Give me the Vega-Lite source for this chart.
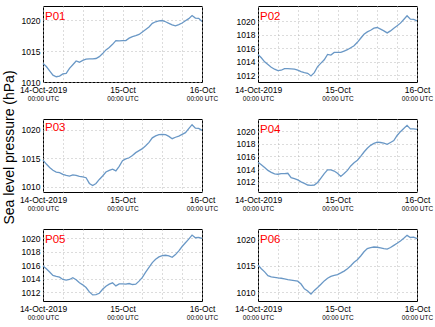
{
"$schema":"https://vega.github.io/schema/vega-lite/v6.json",
"padding":{"left":1,"top":5,"right":0,"bottom":0},
"config":{"view":{"stroke":"#000000","strokeWidth":1},"font":"Liberation Sans",
"axis":{"domain":false,"ticks":false,"tickSize":0,"grid":true,"gridColor":"#b8b8b8","gridDash":[1,3],"gridWidth":1,"labelFont":"Liberation Sans","labelFontSize":8.5,"labelColor":"#000000","labelOverlap":false}},
"datasets":{"pres":[
{"s":"P01","h":0,"p":1013.0},{"s":"P01","h":1,"p":1012.5},{"s":"P01","h":2,"p":1011.8},{"s":"P01","h":3,"p":1011.1},{"s":"P01","h":4,"p":1010.85},{"s":"P01","h":5,"p":1010.95},{"s":"P01","h":6,"p":1011.3},{"s":"P01","h":7,"p":1011.4},{"s":"P01","h":8,"p":1012.2},{"s":"P01","h":9,"p":1012.8},{"s":"P01","h":10,"p":1013.4},{"s":"P01","h":11,"p":1013.2},{"s":"P01","h":12,"p":1013.5},{"s":"P01","h":13,"p":1013.7},{"s":"P01","h":14,"p":1013.75},{"s":"P01","h":15,"p":1013.75},{"s":"P01","h":16,"p":1013.8},{"s":"P01","h":17,"p":1014.1},{"s":"P01","h":18,"p":1014.6},{"s":"P01","h":19,"p":1015.2},{"s":"P01","h":20,"p":1015.6},{"s":"P01","h":21,"p":1016.1},{"s":"P01","h":22,"p":1016.7},{"s":"P01","h":23,"p":1016.65},{"s":"P01","h":24,"p":1016.7},{"s":"P01","h":25,"p":1016.7},{"s":"P01","h":26,"p":1017.1},{"s":"P01","h":27,"p":1017.35},{"s":"P01","h":28,"p":1017.5},{"s":"P01","h":29,"p":1017.7},{"s":"P01","h":30,"p":1018.1},{"s":"P01","h":31,"p":1018.5},{"s":"P01","h":32,"p":1018.9},{"s":"P01","h":33,"p":1019.5},{"s":"P01","h":34,"p":1019.75},{"s":"P01","h":35,"p":1019.9},{"s":"P01","h":36,"p":1019.95},{"s":"P01","h":37,"p":1019.75},{"s":"P01","h":38,"p":1019.5},{"s":"P01","h":39,"p":1019.25},{"s":"P01","h":40,"p":1019.1},{"s":"P01","h":41,"p":1019.3},{"s":"P01","h":42,"p":1019.55},{"s":"P01","h":43,"p":1019.9},{"s":"P01","h":44,"p":1020.25},{"s":"P01","h":45,"p":1020.75},{"s":"P01","h":46,"p":1020.35},{"s":"P01","h":47,"p":1020.3},{"s":"P01","h":48,"p":1019.8},
{"s":"P02","h":0,"p":1015.1},{"s":"P02","h":1,"p":1014.6},{"s":"P02","h":2,"p":1014.0},{"s":"P02","h":3,"p":1013.6},{"s":"P02","h":4,"p":1013.2},{"s":"P02","h":5,"p":1012.9},{"s":"P02","h":6,"p":1012.7},{"s":"P02","h":7,"p":1012.75},{"s":"P02","h":8,"p":1013.0},{"s":"P02","h":9,"p":1013.0},{"s":"P02","h":10,"p":1012.95},{"s":"P02","h":11,"p":1012.9},{"s":"P02","h":12,"p":1012.75},{"s":"P02","h":13,"p":1012.55},{"s":"P02","h":14,"p":1012.4},{"s":"P02","h":15,"p":1012.3},{"s":"P02","h":16,"p":1011.9},{"s":"P02","h":17,"p":1012.4},{"s":"P02","h":18,"p":1013.3},{"s":"P02","h":19,"p":1013.8},{"s":"P02","h":20,"p":1014.3},{"s":"P02","h":21,"p":1015.1},{"s":"P02","h":22,"p":1015.0},{"s":"P02","h":23,"p":1015.4},{"s":"P02","h":24,"p":1015.4},{"s":"P02","h":25,"p":1015.4},{"s":"P02","h":26,"p":1015.6},{"s":"P02","h":27,"p":1015.8},{"s":"P02","h":28,"p":1016.1},{"s":"P02","h":29,"p":1016.4},{"s":"P02","h":30,"p":1016.9},{"s":"P02","h":31,"p":1017.5},{"s":"P02","h":32,"p":1018.1},{"s":"P02","h":33,"p":1018.45},{"s":"P02","h":34,"p":1018.7},{"s":"P02","h":35,"p":1019.0},{"s":"P02","h":36,"p":1019.1},{"s":"P02","h":37,"p":1018.85},{"s":"P02","h":38,"p":1018.6},{"s":"P02","h":39,"p":1018.3},{"s":"P02","h":40,"p":1018.6},{"s":"P02","h":41,"p":1019.0},{"s":"P02","h":42,"p":1019.35},{"s":"P02","h":43,"p":1019.75},{"s":"P02","h":44,"p":1020.3},{"s":"P02","h":45,"p":1020.85},{"s":"P02","h":46,"p":1020.35},{"s":"P02","h":47,"p":1020.3},{"s":"P02","h":48,"p":1020.1},
{"s":"P03","h":0,"p":1014.7},{"s":"P03","h":1,"p":1014.0},{"s":"P03","h":2,"p":1013.4},{"s":"P03","h":3,"p":1012.9},{"s":"P03","h":4,"p":1012.6},{"s":"P03","h":5,"p":1012.5},{"s":"P03","h":6,"p":1012.2},{"s":"P03","h":7,"p":1012.0},{"s":"P03","h":8,"p":1011.9},{"s":"P03","h":9,"p":1012.1},{"s":"P03","h":10,"p":1012.0},{"s":"P03","h":11,"p":1011.85},{"s":"P03","h":12,"p":1011.75},{"s":"P03","h":13,"p":1011.6},{"s":"P03","h":14,"p":1010.6},{"s":"P03","h":15,"p":1010.25},{"s":"P03","h":16,"p":1010.6},{"s":"P03","h":17,"p":1011.3},{"s":"P03","h":18,"p":1011.9},{"s":"P03","h":19,"p":1012.6},{"s":"P03","h":20,"p":1012.9},{"s":"P03","h":21,"p":1013.1},{"s":"P03","h":22,"p":1012.8},{"s":"P03","h":23,"p":1013.6},{"s":"P03","h":24,"p":1014.6},{"s":"P03","h":25,"p":1014.9},{"s":"P03","h":26,"p":1015.1},{"s":"P03","h":27,"p":1015.5},{"s":"P03","h":28,"p":1016.0},{"s":"P03","h":29,"p":1016.35},{"s":"P03","h":30,"p":1016.7},{"s":"P03","h":31,"p":1017.2},{"s":"P03","h":32,"p":1017.8},{"s":"P03","h":33,"p":1018.6},{"s":"P03","h":34,"p":1018.95},{"s":"P03","h":35,"p":1019.15},{"s":"P03","h":36,"p":1019.2},{"s":"P03","h":37,"p":1019.15},{"s":"P03","h":38,"p":1018.85},{"s":"P03","h":39,"p":1018.45},{"s":"P03","h":40,"p":1018.7},{"s":"P03","h":41,"p":1018.9},{"s":"P03","h":42,"p":1019.2},{"s":"P03","h":43,"p":1019.5},{"s":"P03","h":44,"p":1020.2},{"s":"P03","h":45,"p":1020.9},{"s":"P03","h":46,"p":1020.3},{"s":"P03","h":47,"p":1020.25},{"s":"P03","h":48,"p":1019.9},
{"s":"P04","h":0,"p":1015.1},{"s":"P04","h":1,"p":1014.7},{"s":"P04","h":2,"p":1014.25},{"s":"P04","h":3,"p":1013.8},{"s":"P04","h":4,"p":1013.5},{"s":"P04","h":5,"p":1013.25},{"s":"P04","h":6,"p":1013.2},{"s":"P04","h":7,"p":1013.3},{"s":"P04","h":8,"p":1013.3},{"s":"P04","h":9,"p":1013.35},{"s":"P04","h":10,"p":1012.65},{"s":"P04","h":11,"p":1012.5},{"s":"P04","h":12,"p":1012.3},{"s":"P04","h":13,"p":1012.0},{"s":"P04","h":14,"p":1011.75},{"s":"P04","h":15,"p":1011.5},{"s":"P04","h":16,"p":1011.45},{"s":"P04","h":17,"p":1011.5},{"s":"P04","h":18,"p":1011.9},{"s":"P04","h":19,"p":1012.6},{"s":"P04","h":20,"p":1013.3},{"s":"P04","h":21,"p":1013.9},{"s":"P04","h":22,"p":1013.9},{"s":"P04","h":23,"p":1013.7},{"s":"P04","h":24,"p":1013.35},{"s":"P04","h":25,"p":1012.85},{"s":"P04","h":26,"p":1013.3},{"s":"P04","h":27,"p":1013.8},{"s":"P04","h":28,"p":1014.5},{"s":"P04","h":29,"p":1015.0},{"s":"P04","h":30,"p":1015.4},{"s":"P04","h":31,"p":1016.0},{"s":"P04","h":32,"p":1016.7},{"s":"P04","h":33,"p":1017.3},{"s":"P04","h":34,"p":1017.75},{"s":"P04","h":35,"p":1018.05},{"s":"P04","h":36,"p":1018.25},{"s":"P04","h":37,"p":1018.2},{"s":"P04","h":38,"p":1018.1},{"s":"P04","h":39,"p":1017.9},{"s":"P04","h":40,"p":1018.2},{"s":"P04","h":41,"p":1018.5},{"s":"P04","h":42,"p":1019.3},{"s":"P04","h":43,"p":1019.9},{"s":"P04","h":44,"p":1020.4},{"s":"P04","h":45,"p":1020.9},{"s":"P04","h":46,"p":1020.35},{"s":"P04","h":47,"p":1020.35},{"s":"P04","h":48,"p":1020.25},
{"s":"P05","h":0,"p":1015.9},{"s":"P05","h":1,"p":1015.5},{"s":"P05","h":2,"p":1015.0},{"s":"P05","h":3,"p":1014.5},{"s":"P05","h":4,"p":1014.35},{"s":"P05","h":5,"p":1014.25},{"s":"P05","h":6,"p":1013.9},{"s":"P05","h":7,"p":1013.8},{"s":"P05","h":8,"p":1013.9},{"s":"P05","h":9,"p":1014.15},{"s":"P05","h":10,"p":1013.85},{"s":"P05","h":11,"p":1013.4},{"s":"P05","h":12,"p":1013.1},{"s":"P05","h":13,"p":1012.7},{"s":"P05","h":14,"p":1012.05},{"s":"P05","h":15,"p":1011.6},{"s":"P05","h":16,"p":1011.65},{"s":"P05","h":17,"p":1011.85},{"s":"P05","h":18,"p":1012.45},{"s":"P05","h":19,"p":1012.9},{"s":"P05","h":20,"p":1013.2},{"s":"P05","h":21,"p":1013.4},{"s":"P05","h":22,"p":1012.95},{"s":"P05","h":23,"p":1013.25},{"s":"P05","h":24,"p":1013.25},{"s":"P05","h":25,"p":1013.2},{"s":"P05","h":26,"p":1013.3},{"s":"P05","h":27,"p":1013.15},{"s":"P05","h":28,"p":1013.2},{"s":"P05","h":29,"p":1013.65},{"s":"P05","h":30,"p":1014.2},{"s":"P05","h":31,"p":1015.0},{"s":"P05","h":32,"p":1015.7},{"s":"P05","h":33,"p":1016.4},{"s":"P05","h":34,"p":1016.9},{"s":"P05","h":35,"p":1017.25},{"s":"P05","h":36,"p":1017.45},{"s":"P05","h":37,"p":1017.5},{"s":"P05","h":38,"p":1017.4},{"s":"P05","h":39,"p":1017.2},{"s":"P05","h":40,"p":1017.6},{"s":"P05","h":41,"p":1018.15},{"s":"P05","h":42,"p":1018.8},{"s":"P05","h":43,"p":1019.35},{"s":"P05","h":44,"p":1019.9},{"s":"P05","h":45,"p":1020.5},{"s":"P05","h":46,"p":1020.1},{"s":"P05","h":47,"p":1020.15},{"s":"P05","h":48,"p":1020.0},
{"s":"P06","h":0,"p":1015.1},{"s":"P06","h":1,"p":1014.4},{"s":"P06","h":2,"p":1013.8},{"s":"P06","h":3,"p":1013.1},{"s":"P06","h":4,"p":1012.85},{"s":"P06","h":5,"p":1012.75},{"s":"P06","h":6,"p":1012.65},{"s":"P06","h":7,"p":1012.6},{"s":"P06","h":8,"p":1012.5},{"s":"P06","h":9,"p":1012.35},{"s":"P06","h":10,"p":1012.25},{"s":"P06","h":11,"p":1012.15},{"s":"P06","h":12,"p":1012.05},{"s":"P06","h":13,"p":1011.5},{"s":"P06","h":14,"p":1010.6},{"s":"P06","h":15,"p":1010.2},{"s":"P06","h":16,"p":1009.6},{"s":"P06","h":17,"p":1010.3},{"s":"P06","h":18,"p":1010.85},{"s":"P06","h":19,"p":1011.45},{"s":"P06","h":20,"p":1012.1},{"s":"P06","h":21,"p":1012.6},{"s":"P06","h":22,"p":1012.95},{"s":"P06","h":23,"p":1013.15},{"s":"P06","h":24,"p":1013.3},{"s":"P06","h":25,"p":1013.6},{"s":"P06","h":26,"p":1013.95},{"s":"P06","h":27,"p":1014.4},{"s":"P06","h":28,"p":1014.95},{"s":"P06","h":29,"p":1015.6},{"s":"P06","h":30,"p":1016.1},{"s":"P06","h":31,"p":1016.8},{"s":"P06","h":32,"p":1017.6},{"s":"P06","h":33,"p":1018.2},{"s":"P06","h":34,"p":1018.4},{"s":"P06","h":35,"p":1018.5},{"s":"P06","h":36,"p":1018.45},{"s":"P06","h":37,"p":1018.35},{"s":"P06","h":38,"p":1018.2},{"s":"P06","h":39,"p":1018.1},{"s":"P06","h":40,"p":1018.4},{"s":"P06","h":41,"p":1018.8},{"s":"P06","h":42,"p":1019.2},{"s":"P06","h":43,"p":1019.65},{"s":"P06","h":44,"p":1020.15},{"s":"P06","h":45,"p":1020.7},{"s":"P06","h":46,"p":1020.3},{"s":"P06","h":47,"p":1020.35},{"s":"P06","h":48,"p":1020.1}
]},
"columns":2,
"spacing":{"row":37,"column":56},
"bounds":"flush",
"align":"each",
"concat":[
{"width":159,"height":76,
 "title":{"text":"P01","color":"#ff0000","fontSize":11.5,"fontWeight":"normal","anchor":"start","offset":-15,"dx":2,"dy":10,"baseline":"alphabetic","frame":"group"},
 "data":{"name":"pres"},"transform":[{"filter":"datum.s=='P01'"}],
 "layer":[
  {"mark":{"type":"line","color":"#6a98c6","strokeWidth":1.3},
   "encoding":{
    "x":{"field":"h","type":"quantitative","scale":{"domain":[0,48],"nice":false,"zero":false},"axis":{"title":null,"values":[0,6,12,18,24,30,36,42,48],"labelExpr":"datum.value==0 ? '14-Oct-2019' : datum.value==24 ? '15-Oct' : datum.value==48 ? '16-Oct' : ''","labelFlush":false,"labelPadding":3}},
    "y":{"field":"p","type":"quantitative","scale":{"domain":[1010,1022.3],"nice":false,"zero":false},"axis":{"title":null,"values":[1010,1015,1020],"format":"d","labelOverlap":false,"labelPadding":3}}}},
  {"mark":{"type":"rule","opacity":0},
   "encoding":{
    "x":{"field":"h","type":"quantitative","axis":{"title":null,"orient":"bottom","values":[0,24,48],"labelExpr":"'00:00 UTC'","grid":false,"labelFontSize":6.5,"labelPadding":13,"labelFlush":false}}}}
 ],
 "resolve":{"axis":{"x":"independent"}}},
{"width":159,"height":76,
 "title":{"text":"P02","color":"#ff0000","fontSize":11.5,"fontWeight":"normal","anchor":"start","offset":-15,"dx":2,"dy":10,"baseline":"alphabetic","frame":"group"},
 "data":{"name":"pres"},"transform":[{"filter":"datum.s=='P02'"}],
 "layer":[
  {"mark":{"type":"line","color":"#6a98c6","strokeWidth":1.3},
   "encoding":{
    "x":{"field":"h","type":"quantitative","scale":{"domain":[0,48],"nice":false,"zero":false},"axis":{"title":null,"values":[0,6,12,18,24,30,36,42,48],"labelExpr":"datum.value==0 ? '14-Oct-2019' : datum.value==24 ? '15-Oct' : datum.value==48 ? '16-Oct' : ''","labelFlush":false,"labelPadding":3}},
    "y":{"field":"p","type":"quantitative","scale":{"domain":[1011,1022.3],"nice":false,"zero":false},"axis":{"title":null,"values":[1012,1014,1016,1018,1020],"format":"d","labelOverlap":false,"labelPadding":3}}}},
  {"mark":{"type":"rule","opacity":0},
   "encoding":{
    "x":{"field":"h","type":"quantitative","axis":{"title":null,"orient":"bottom","values":[0,24,48],"labelExpr":"'00:00 UTC'","grid":false,"labelFontSize":6.5,"labelPadding":13,"labelFlush":false}}}}
 ],
 "resolve":{"axis":{"x":"independent"}}},
{"width":159,"height":73,
 "title":{"text":"P03","color":"#ff0000","fontSize":11.5,"fontWeight":"normal","anchor":"start","offset":-15,"dx":2,"dy":58,"baseline":"alphabetic","frame":"group"},
 "data":{"name":"pres"},"transform":[{"filter":"datum.s=='P03'"}],
 "layer":[
  {"mark":{"type":"line","color":"#6a98c6","strokeWidth":1.3},
   "encoding":{
    "x":{"field":"h","type":"quantitative","scale":{"domain":[0,48],"nice":false,"zero":false},"axis":{"title":null,"values":[0,6,12,18,24,30,36,42,48],"labelExpr":"datum.value==0 ? '14-Oct-2019' : datum.value==24 ? '15-Oct' : datum.value==48 ? '16-Oct' : ''","labelFlush":false,"labelPadding":3}},
    "y":{"field":"p","type":"quantitative","scale":{"domain":[1009.1,1021.9],"nice":false,"zero":false},"axis":{"title":"Sea level pressure (hPa)","titleFontSize":14,"titleFontWeight":"normal","titleColor":"#000000","titleFont":"Liberation Sans","titleX":-27,"titleY":28,"titleAngle":-90,"titleAlign":"center","titleBaseline":"bottom","values":[1010,1015,1020],"format":"d","labelOverlap":false,"labelPadding":3}}}},
  {"mark":{"type":"rule","opacity":0},
   "encoding":{
    "x":{"field":"h","type":"quantitative","axis":{"title":null,"orient":"bottom","values":[0,24,48],"labelExpr":"'00:00 UTC'","grid":false,"labelFontSize":6.5,"labelPadding":13,"labelFlush":false}}}}
 ],
 "resolve":{"axis":{"x":"independent"}}},
{"width":159,"height":73,
 "title":{"text":"P04","color":"#ff0000","fontSize":11.5,"fontWeight":"normal","anchor":"start","offset":-15,"dx":2,"dy":10,"baseline":"alphabetic","frame":"group"},
 "data":{"name":"pres"},"transform":[{"filter":"datum.s=='P04'"}],
 "layer":[
  {"mark":{"type":"line","color":"#6a98c6","strokeWidth":1.3},
   "encoding":{
    "x":{"field":"h","type":"quantitative","scale":{"domain":[0,48],"nice":false,"zero":false},"axis":{"title":null,"values":[0,6,12,18,24,30,36,42,48],"labelExpr":"datum.value==0 ? '14-Oct-2019' : datum.value==24 ? '15-Oct' : datum.value==48 ? '16-Oct' : ''","labelFlush":false,"labelPadding":3}},
    "y":{"field":"p","type":"quantitative","scale":{"domain":[1010.4,1021.9],"nice":false,"zero":false},"axis":{"title":null,"values":[1012,1014,1016,1018,1020],"format":"d","labelOverlap":false,"labelPadding":3}}}},
  {"mark":{"type":"rule","opacity":0},
   "encoding":{
    "x":{"field":"h","type":"quantitative","axis":{"title":null,"orient":"bottom","values":[0,24,48],"labelExpr":"'00:00 UTC'","grid":false,"labelFontSize":6.5,"labelPadding":13,"labelFlush":false}}}}
 ],
 "resolve":{"axis":{"x":"independent"}}},
{"width":159,"height":72,
 "title":{"text":"P05","color":"#ff0000","fontSize":11.5,"fontWeight":"normal","anchor":"start","offset":-15,"dx":2,"dy":10,"baseline":"alphabetic","frame":"group"},
 "data":{"name":"pres"},"transform":[{"filter":"datum.s=='P05'"}],
 "layer":[
  {"mark":{"type":"line","color":"#6a98c6","strokeWidth":1.3},
   "encoding":{
    "x":{"field":"h","type":"quantitative","scale":{"domain":[0,48],"nice":false,"zero":false},"axis":{"title":null,"values":[0,6,12,18,24,30,36,42,48],"labelExpr":"datum.value==0 ? '14-Oct-2019' : datum.value==24 ? '15-Oct' : datum.value==48 ? '16-Oct' : ''","labelFlush":false,"labelPadding":3}},
    "y":{"field":"p","type":"quantitative","scale":{"domain":[1010.7,1021.4],"nice":false,"zero":false},"axis":{"title":null,"values":[1012,1014,1016,1018,1020],"format":"d","labelOverlap":false,"labelPadding":3}}}},
  {"mark":{"type":"rule","opacity":0},
   "encoding":{
    "x":{"field":"h","type":"quantitative","axis":{"title":null,"orient":"bottom","values":[0,24,48],"labelExpr":"'00:00 UTC'","grid":false,"labelFontSize":6.5,"labelPadding":13,"labelFlush":false}}}}
 ],
 "resolve":{"axis":{"x":"independent"}}},
{"width":159,"height":72,
 "title":{"text":"P06","color":"#ff0000","fontSize":11.5,"fontWeight":"normal","anchor":"start","offset":-15,"dx":2,"dy":10,"baseline":"alphabetic","frame":"group"},
 "data":{"name":"pres"},"transform":[{"filter":"datum.s=='P06'"}],
 "layer":[
  {"mark":{"type":"line","color":"#6a98c6","strokeWidth":1.3},
   "encoding":{
    "x":{"field":"h","type":"quantitative","scale":{"domain":[0,48],"nice":false,"zero":false},"axis":{"title":null,"values":[0,6,12,18,24,30,36,42,48],"labelExpr":"datum.value==0 ? '14-Oct-2019' : datum.value==24 ? '15-Oct' : datum.value==48 ? '16-Oct' : ''","labelFlush":false,"labelPadding":3}},
    "y":{"field":"p","type":"quantitative","scale":{"domain":[1008.3,1021.9],"nice":false,"zero":false},"axis":{"title":null,"values":[1010,1015,1020],"format":"d","labelOverlap":false,"labelPadding":3}}}},
  {"mark":{"type":"rule","opacity":0},
   "encoding":{
    "x":{"field":"h","type":"quantitative","axis":{"title":null,"orient":"bottom","values":[0,24,48],"labelExpr":"'00:00 UTC'","grid":false,"labelFontSize":6.5,"labelPadding":13,"labelFlush":false}}}}
 ],
 "resolve":{"axis":{"x":"independent"}}}
]
}
